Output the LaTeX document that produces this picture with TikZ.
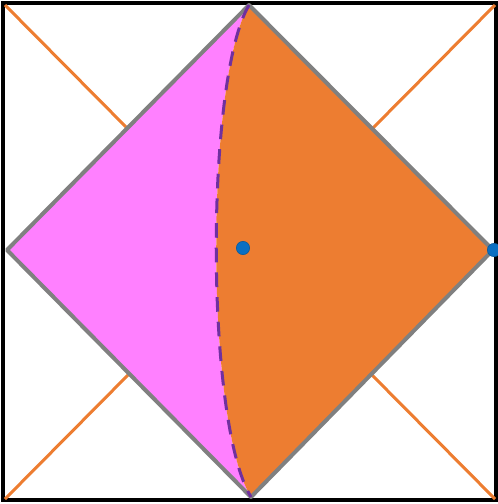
\documentclass[tikz,border=0pt]{standalone}
\usetikzlibrary{calc}
\definecolor{orng}{HTML}{ED7D31}
\definecolor{pnk}{HTML}{FF80FF}
\definecolor{purp}{HTML}{7030A0}
\definecolor{blu}{HTML}{0A6FC2}
\definecolor{gry}{HTML}{808080}
\begin{document}
\begin{tikzpicture}[x=0.75pt,y=-0.75pt,
  frame/.style={draw=black,line width=3.6pt*0.75},
  xline/.style={draw=orng,line width=3pt*0.75},
  edge/.style={draw=gry,line width=4pt*0.75,line join=round},
  horizon/.style={draw=purp,line width=3pt*0.75,dash pattern=on 11pt off 7.5pt},
  dot/.style={circle,fill=blu,draw=blu!80!black,line width=0.4pt,inner sep=0pt,minimum size=10pt}]
\useasboundingbox (0,0) rectangle (498,504);
\coordinate (T) at (249,5);
\coordinate (L) at (7,250);
\coordinate (B) at (251,497);
\coordinate (R) at (493,250);
\coordinate (c1) at (3,3);
\coordinate (c3) at (496,500);
\draw[frame] (c1) rectangle (c3);
\draw[xline] (5,5) -- (495,499);
\draw[xline] (495,5) -- (5,499);
\fill[pnk] (T) -- (L) -- (B) .. controls (205,422) and (205,80) .. (T) -- cycle;
\fill[orng] (T) -- (R) -- (B) .. controls (205,422) and (205,80) .. (T) -- cycle;
\draw[edge] (T) -- (L) -- (B) -- (R) -- cycle;
\draw[horizon] (T) .. controls (205,80) and (205,422) .. (B);
\node[dot] (p) at (243,248) {};
\node[dot] (q) at (494,250) {};
\end{tikzpicture}
\end{document}
